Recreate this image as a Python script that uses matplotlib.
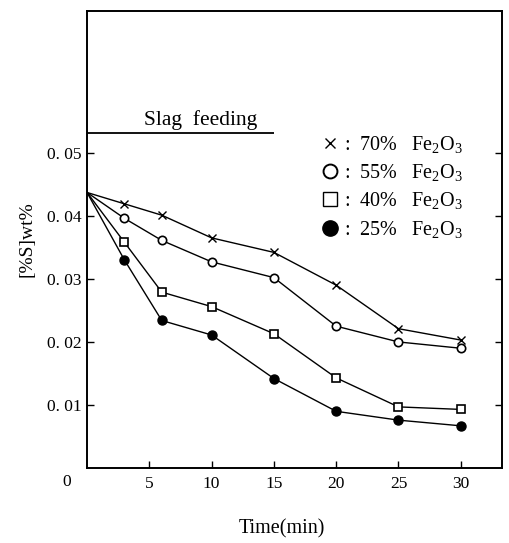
import matplotlib.pyplot as plt
from matplotlib.lines import Line2D

plt.rcParams['font.family'] = ['Liberation Serif', 'DejaVu Serif']
plt.rcParams['mathtext.fontset'] = 'custom'
plt.rcParams['mathtext.rm'] = 'Liberation Serif'
plt.rcParams['mathtext.it'] = 'Liberation Serif:italic'

# Data
time = [0, 3, 6, 10, 15, 20, 25, 30]
s70 = [0.0437, 0.0419, 0.0401, 0.0365, 0.0342, 0.0290, 0.0221, 0.0203]
s55 = [0.0437, 0.0396, 0.0361, 0.0327, 0.0302, 0.0225, 0.0200, 0.0190]
s40 = [0.0437, 0.0358, 0.0279, 0.0256, 0.0213, 0.0143, 0.0097, 0.0093]
s25 = [0.0437, 0.0330, 0.0234, 0.0211, 0.0142, 0.0090, 0.0076, 0.0067]
labels = [':  70%   Fe$_2$O$_3$', ':  55%   Fe$_2$O$_3$',
          ':  40%   Fe$_2$O$_3$', ':  25%   Fe$_2$O$_3$']
xticks = [5, 10, 15, 20, 25, 30]
yticks = [0.01, 0.02, 0.03, 0.04, 0.05]
ytick_labels = ['0. 01', '0. 02', '0. 03', '0. 04', '0. 05']
feed_end = 15
feed_level = 0.0532

fig = plt.figure(figsize=(5.09, 5.43), dpi=100)
ax = fig.add_axes([0.171, 0.138, 0.815, 0.842])

# first point (t=0) is drawn without a marker
mk = slice(1, None)
ax.plot(time, s70, color='black', lw=1.0, marker='x', ms=5.5, mew=1.0, markevery=mk)
ax.plot(time, s55, color='black', lw=1.0, marker='o', ms=6, mfc='white', mew=1.2, markevery=mk)
ax.plot(time, s40, color='black', lw=1.0, marker='s', ms=6, mfc='white', mew=1.2, markevery=mk)
ax.plot(time, s25, color='black', lw=1.0, marker='o', ms=6.5, mfc='black', markevery=mk)

# slag feeding period
ax.hlines(feed_level, 0, feed_end, color='black', lw=1.3)
ax.text(9.1, feed_level + 0.0012, 'Slag  feeding', ha='center', va='baseline', fontsize=15.5)

ax.set_xlim(0, 33.3)
ax.set_ylim(0, 0.0725)
ax.set_xticks(xticks)
ax.set_yticks(yticks)
ax.set_yticklabels(ytick_labels)
ax.tick_params(direction='in', length=5, width=1.0, labelsize=12.5, right=True)
ax.tick_params(axis='x', pad=6)
ax.tick_params(axis='y', pad=4)
for sp in ax.spines.values():
    sp.set_linewidth(1.4)

ax.text(-0.05, -0.03, '0', transform=ax.transAxes, ha='center', va='center', fontsize=12.5)

ax.set_xlabel('Time(min)', fontsize=14.5)
ax.xaxis.set_label_coords(0.47, -0.112)
ax.set_ylabel('[%S]wt%', fontsize=14)
ax.yaxis.set_label_coords(-0.125, 0.5)

handles = [
    Line2D([], [], ls='none', marker='x', ms=6.5, mew=1.0, color='black'),
    Line2D([], [], ls='none', marker='o', ms=10, mfc='white', mew=1.4, color='black'),
    Line2D([], [], ls='none', marker='s', ms=10, mfc='white', mew=1.0, color='black'),
    Line2D([], [], ls='none', marker='o', ms=11, mfc='black', color='black'),
]
ax.legend(handles, labels, loc='upper left', bbox_to_anchor=(0.648, 0.754),
          bbox_transform=fig.transFigure, frameon=False, fontsize=14.5,
          handlelength=0, handletextpad=0.7, labelspacing=0.37,
          borderpad=0, borderaxespad=0)

fig.savefig('out.png', dpi=100)
